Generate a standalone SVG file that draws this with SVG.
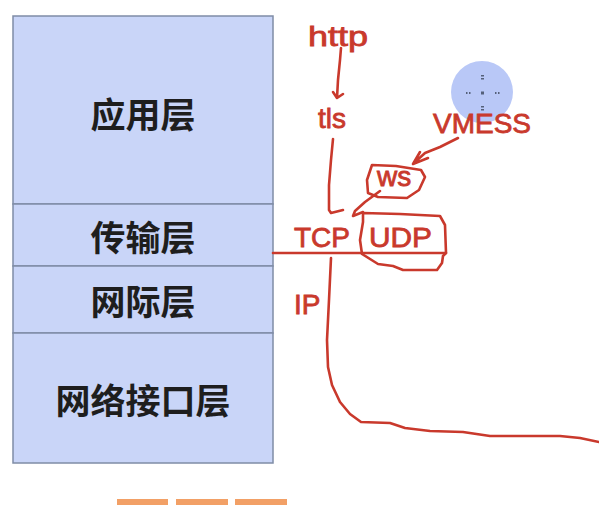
<svg xmlns="http://www.w3.org/2000/svg" width="599" height="505" viewBox="0 0 599 505">
<style>
.layer{fill:#c9d5f8;stroke:#7f8ca6;stroke-width:1.5}
.cn{font-family:"Noto Sans CJK SC","Noto Sans",sans-serif;font-weight:bold;font-size:35px;fill:#1e1e1e;text-anchor:middle;dominant-baseline:central}
.lbl{font-family:"Liberation Sans",Arial,sans-serif;font-size:28px;fill:#c9392c;stroke:#c9392c;stroke-width:0.8}
.ink{fill:none;stroke:#c9392c;stroke-width:2.6;stroke-linecap:round;stroke-linejoin:round}
.bar{fill:#f2a066}
</style>
<rect width="599" height="505" fill="#ffffff"/>
<g id="stack">
  <g id="app"><rect class="layer" x="13" y="16" width="260" height="188"/><text class="cn" x="143" y="112">应用层</text></g>
  <g id="transport"><rect class="layer" x="13" y="204" width="260" height="62"/><text class="cn" x="143" y="235">传输层</text></g>
  <g id="internet"><rect class="layer" x="13" y="266" width="260" height="67"/><text class="cn" x="143" y="299">网际层</text></g>
  <g id="netif"><rect class="layer" x="13" y="333" width="260" height="130"/><text class="cn" x="143" y="398">网络接口层</text></g>
</g>
<g id="cursor">
  <circle cx="482" cy="92" r="31" fill="#b9c8f7"/>
  <g fill="#55607a">
    <rect x="481" y="75" width="3" height="1.5"/><rect x="481" y="78" width="3" height="1.5"/>
    <rect x="481" y="106" width="3" height="1.5"/><rect x="481" y="109" width="3" height="1.5"/>
    <rect x="466" y="92" width="1.5" height="2"/><rect x="469" y="92" width="1.5" height="2"/>
    <rect x="495" y="92" width="1.5" height="2"/><rect x="498" y="92" width="1.5" height="2"/>
    <rect x="481" y="91.5" width="3" height="3"/>
  </g>
</g>
<g id="labels">
  <g id="http"><text class="lbl" x="308" y="46" textLength="60" lengthAdjust="spacingAndGlyphs">http</text></g>
  <g id="tls"><text class="lbl" x="318" y="128">tls</text></g>
  <g id="vmess"><text class="lbl" x="433" y="133">VMESS</text></g>
  <g id="ws"><text class="lbl" x="377" y="186">ws</text></g>
  <g id="tcp"><text class="lbl" x="294" y="247">TCP</text></g>
  <g id="udp"><text class="lbl" x="369" y="247" textLength="63" lengthAdjust="spacingAndGlyphs">UDP</text></g>
  <g id="ip"><text class="lbl" x="294" y="314">IP</text></g>
</g>
<g id="connectors">
  <path class="ink" d="M341,48 L340,60 L338,80 L337,98 M333,92 L337,98 L343,94"/>
  <path class="ink" d="M333,139 L331,160 L329,185 L329,210 L331,213 L343,210"/>
  <path class="ink" d="M458,138 L440,147 L425,153 L414,163 M413,164 L428,158 M413,164 L420,152"/>
  <path class="ink" d="M372,165 L396,166 L421,170 L425,177 L419,190 L407,198 L378,197 L368,193 L367,180 Z"/>
  <path class="ink" d="M380,191 L365,202 L355,211 L353,216 L363,212"/>
  <path class="ink" d="M363,213 L400,214 L440,216 L445,225 L446,253 L443,256 L442,263 L437,270 L403,270 L393,266 L378,264 L362,254 L360,240 L363,222 Z"/>
  <path class="ink" d="M273,253 L446,253"/>
  <path class="ink" d="M331,258 L329,300 L327,340 L328,367 L332,385 L340,402 L350,414 L361,422 L390,423 L405,428 L430,431 L463,432 L490,436 L520,436 L560,436 L580,438 L599,442"/>
</g>
<g id="toolbar">
  <rect class="bar" x="117" y="499" width="51" height="6"/>
  <rect class="bar" x="176" y="499" width="52" height="6"/>
  <rect class="bar" x="235" y="499" width="52" height="6"/>
</g>
</svg>
